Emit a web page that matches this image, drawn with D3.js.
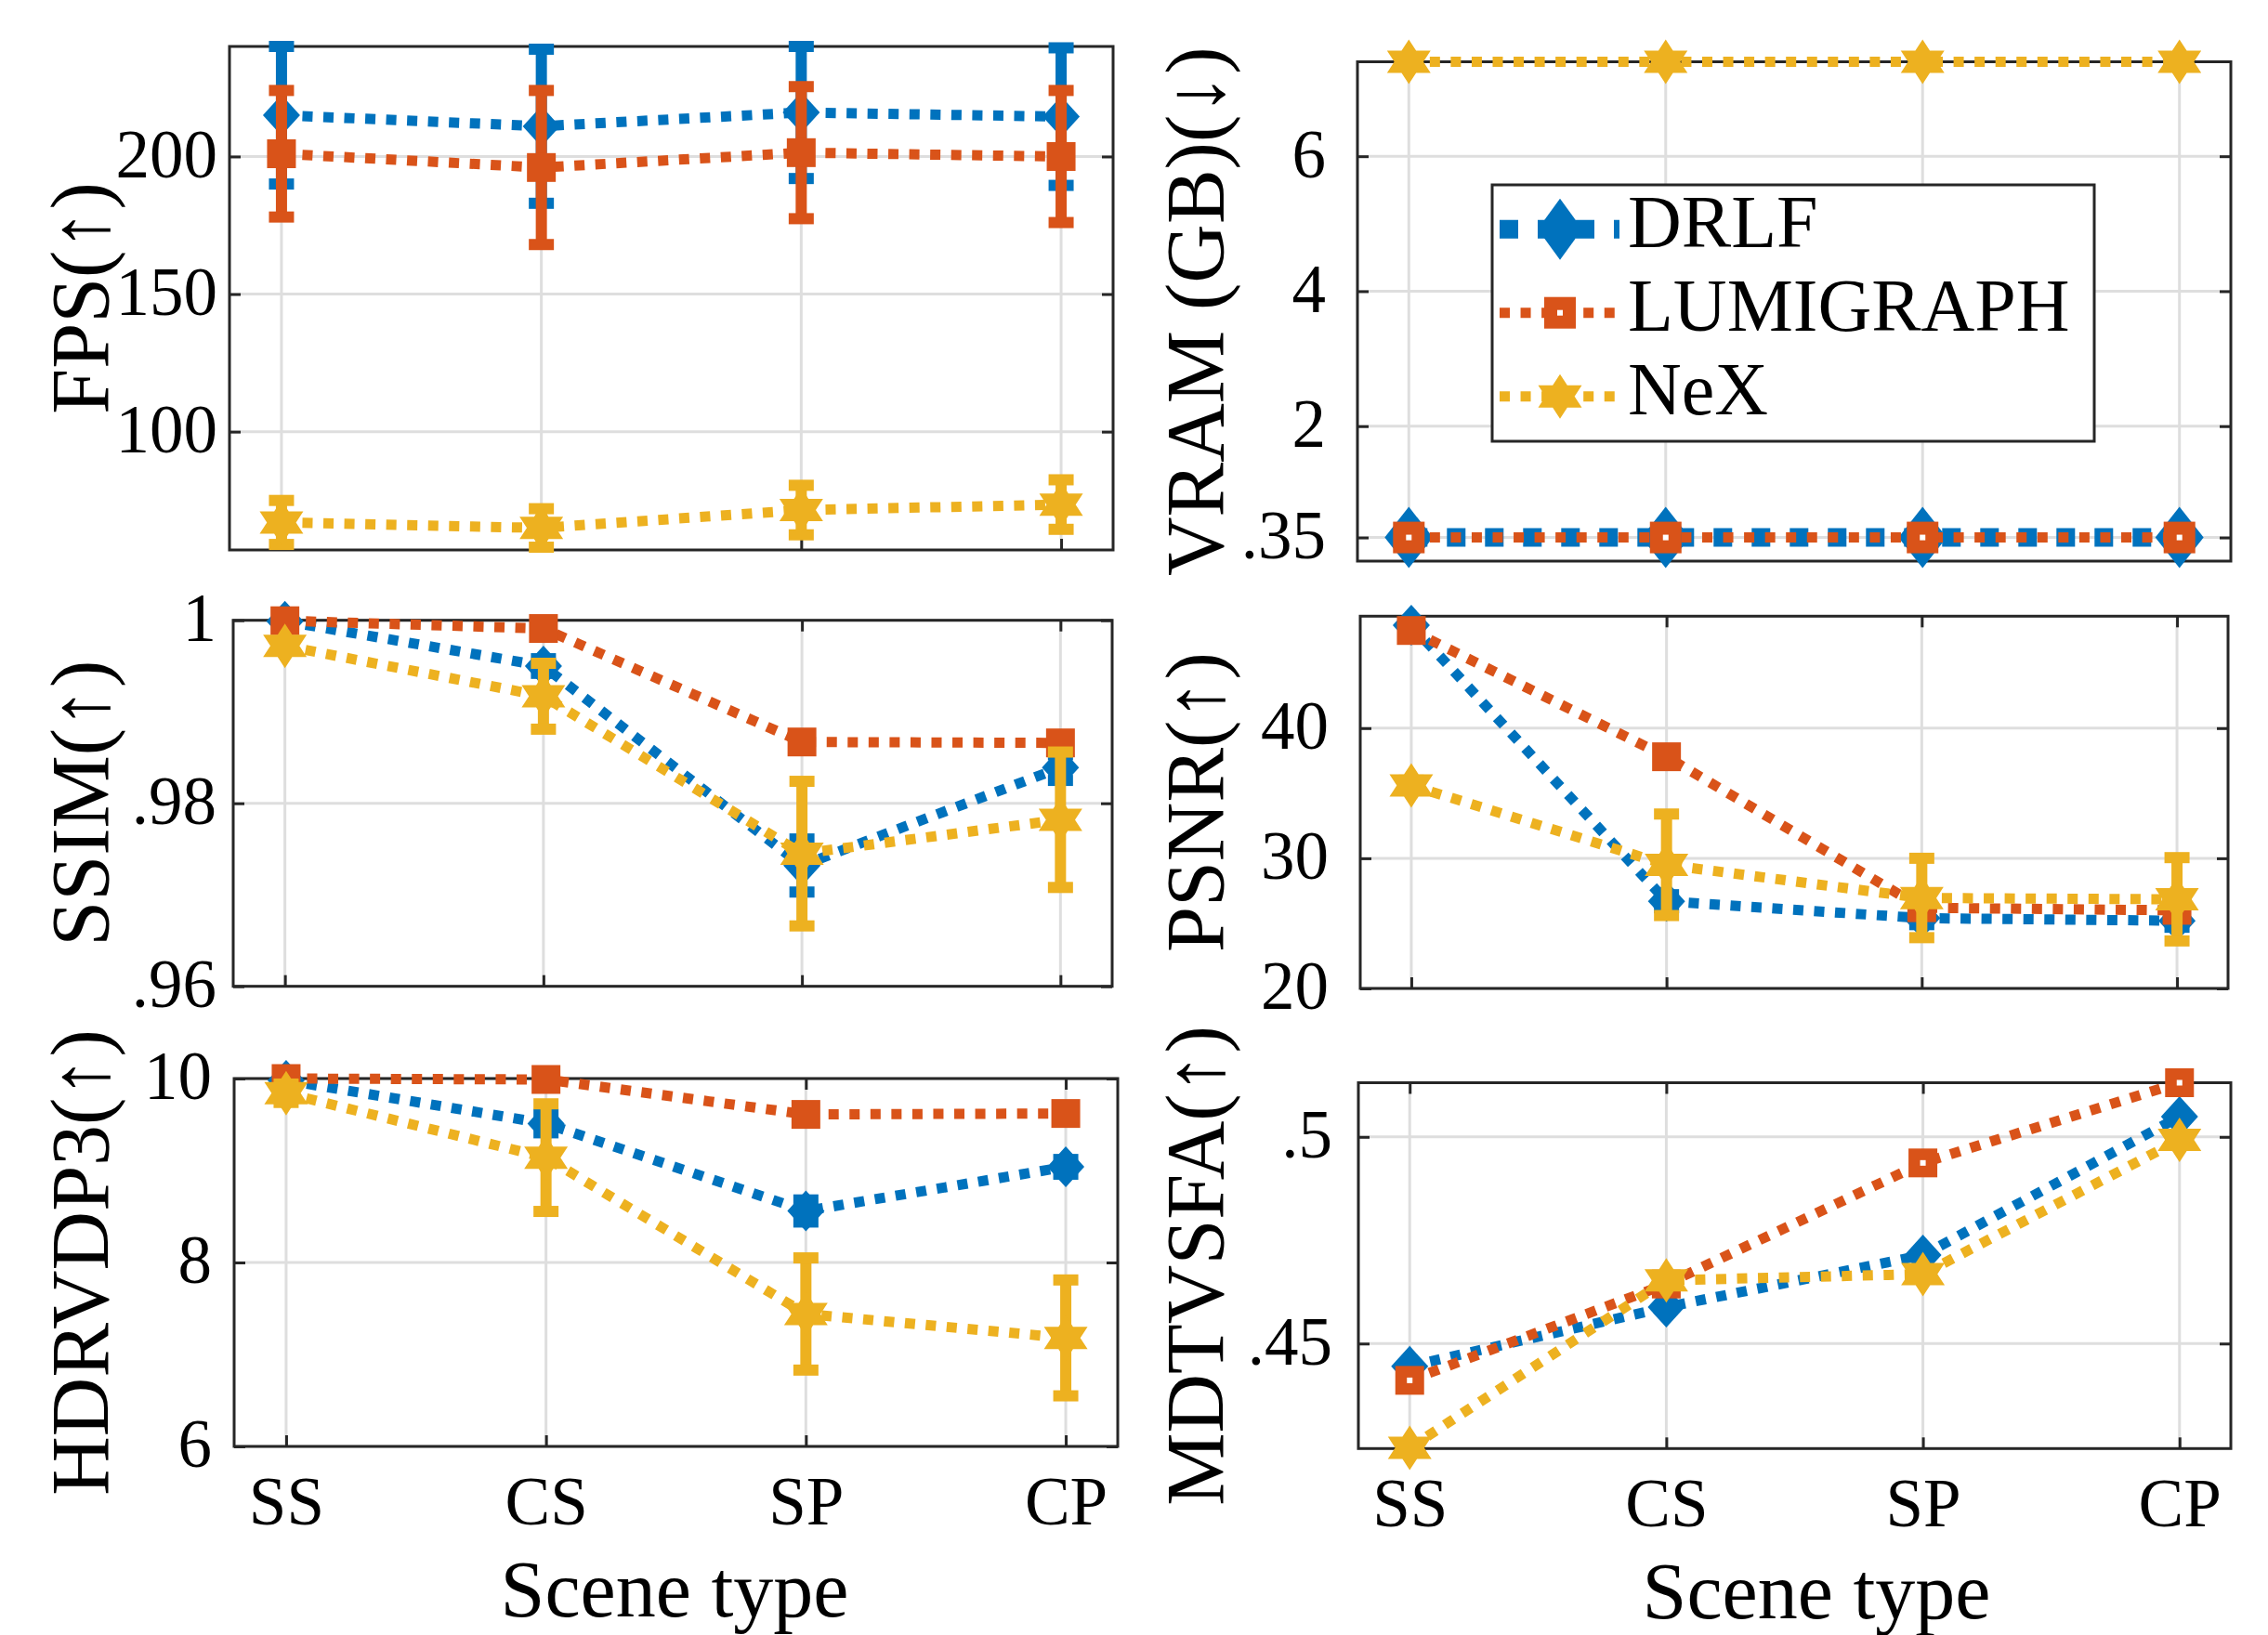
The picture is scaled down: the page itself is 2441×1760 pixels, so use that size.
<!DOCTYPE html>
<html>
<head>
<meta charset="utf-8">
<script src="https://cdn.jsdelivr.net/npm/d3@7"></script>
<style>
body { margin: 0; background: #fff; }
text { font-family: "Liberation Serif", "Times New Roman", serif; fill: #000; }
</style>
</head>
<body>
<svg id="chart" width="2441" height="1760"></svg>
<script>
// categories / methods
var categories = ["SS", "CS", "SP", "CP"];
var methods = ["DRLF", "LUMIGRAPH", "NeX"];
var colors = ["#0072BD", "#D95319", "#EDB120"];

// FPS
var fpsDRLF = [215, 211, 216, 214.5],   fpsDRLFErr = [25, 28, 24, 25];
var fpsLumi = [201, 196, 201.4, 200],   fpsLumiErr = [23, 28, 24, 24];
var fpsNeX  = [67, 65, 71.5, 73.5],     fpsNeXErr  = [8, 7, 9, 9];
var fpsRange = [57, 240], fpsTicks = [100, 150, 200], fpsTickLabels = ["100", "150", "200"];

// VRAM
var vramDRLF = [0.35, 0.35, 0.35, 0.35];
var vramLumi = [0.35, 0.35, 0.35, 0.35];
var vramNeX  = [7.4, 7.4, 7.4, 7.4];
var vramRange = [0, 7.4], vramTicks = [0.35, 2, 4, 6], vramTickLabels = [".35", "2", "4", "6"];

// SSIM
var ssimDRLF = [0.9999, 0.9950, 0.9732, 0.9839], ssimDRLFErr = [0.0003, 0.0008, 0.0029, 0.0014];
var ssimLumi = [0.99995, 0.9991, 0.9867, 0.9866];
var ssimNeX  = [0.9972, 0.9917, 0.9745, 0.9782], ssimNeXErr = [0.0004, 0.0036, 0.0079, 0.0074];
var ssimRange = [0.96, 1], ssimTicks = [0.96, 0.98, 1], ssimTickLabels = [".96", ".98", "1"];

// PSNR
var psnrDRLF = [47.9, 26.7, 25.4, 25.2], psnrDRLFErr = [0.3, 0.5, 0.5, 0.5];
var psnrLumi = [47.5, 37.8, 26.2, 26.0];
var psnrNeX  = [35.6, 29.5, 26.95, 26.85], psnrNeXErr = [0.4, 3.9, 3.05, 3.2];
var psnrRange = [20, 48.6], psnrTicks = [20, 30, 40], psnrTickLabels = ["20", "30", "40"];

// HDRVDP3
var hdrDRLF = [9.98, 9.51, 8.56, 9.04], hdrDRLFErr = [0.05, 0.1, 0.12, 0.08];
var hdrLumi = [10.0, 9.99, 9.61, 9.62];
var hdrNeX  = [9.84, 9.14, 7.44, 7.18], hdrNeXErr = [0.1, 0.585, 0.61, 0.63];
var hdrRange = [6, 10], hdrTicks = [6, 8, 10], hdrTickLabels = ["6", "8", "10"];

// MDTVSFA
var mdDRLF = [0.4445, 0.4588, 0.4714, 0.5049];
var mdLumi = [0.4411, 0.4644, 0.4937, 0.5131];
var mdNeX  = [0.4248, 0.4653, 0.4668, 0.4993];
var mdRange = [0.4246, 0.5131], mdTicks = [0.45, 0.5], mdTickLabels = [".45", ".5"];

var svg = d3.select("#chart");
var axisColor = "#262626", gridColor = "#dedede";

var panels = [
  {label: "FPS(\u2191)", range: fpsRange, ticks: fpsTicks, tickLabels: fpsTickLabels,
   series: [[fpsDRLF, fpsDRLFErr], [fpsLumi, fpsLumiErr], [fpsNeX, fpsNeXErr]],
   x0: 247, x1: 1198, y0: 50, y1: 592, gap: 13, lx: 116},
  {label: "VRAM (GB)(\u2193)", range: vramRange, ticks: vramTicks, tickLabels: vramTickLabels,
   series: [[vramDRLF], [vramLumi], [vramNeX]], big: true, hole: true, legend: true,
   x0: 1461, x1: 2401, y0: 66.5, y1: 604, gap: 34, lx: 1316},
  {label: "SSIM(\u2191)", range: ssimRange, ticks: ssimTicks, tickLabels: ssimTickLabels,
   series: [[ssimDRLF, ssimDRLFErr], [ssimLumi], [ssimNeX, ssimNeXErr]],
   x0: 251, x1: 1197, y0: 667.7, y1: 1061.7, gap: 18, lx: 116},
  {label: "PSNR(\u2191)", range: psnrRange, ticks: psnrTicks, tickLabels: psnrTickLabels,
   series: [[psnrDRLF, psnrDRLFErr], [psnrLumi], [psnrNeX, psnrNeXErr]],
   x0: 1464, x1: 2398, y0: 663.3, y1: 1064, gap: 34, lx: 1316},
  {label: "HDRVDP3(\u2191)", range: hdrRange, ticks: hdrTicks, tickLabels: hdrTickLabels,
   series: [[hdrDRLF, hdrDRLFErr], [hdrLumi], [hdrNeX, hdrNeXErr]], xlab: 726,
   x0: 252, x1: 1203, y0: 1161, y1: 1557, gap: 24, lx: 116},
  {label: "MDTVSFA(\u2191)", range: mdRange, ticks: mdTicks, tickLabels: mdTickLabels,
   series: [[mdDRLF], [mdLumi], [mdNeX]], hole: true, xlab: 1955,
   x0: 1462, x1: 2401, y0: 1165.5, y1: 1559.3, gap: 28, lx: 1316}
];

function hexagram(r, sx) {
  var pts = [];
  for (var i = 0; i < 12; i++) {
    var a = i * Math.PI / 6, rr = (i % 2 == 0) ? r : r / Math.sqrt(3);
    pts.push([sx * rr * Math.sin(a), -rr * Math.cos(a)]);
  }
  return "M" + pts.join("L") + "Z";
}

function marker(g, k, cx, cy, big, hole) {
  var c = colors[k];
  if (k == 0) {
    var w = big ? 52 : 40, h = big ? 66 : 44;
    g.append("path").attr("d", "M0," + (-h / 2) + "L" + (w / 2) + ",0L0," + (h / 2) + "L" + (-w / 2) + ",0Z")
      .attr("transform", "translate(" + cx + "," + cy + ")").attr("fill", c);
  } else if (k == 1) {
    var s = big ? 34 : 31;
    g.append("rect").attr("x", cx - s / 2).attr("y", cy - s / 2).attr("width", s).attr("height", s).attr("fill", c);
    if (hole) g.append("rect").attr("x", cx - 3).attr("y", cy - 3).attr("width", 6).attr("height", 6).attr("fill", "#fff");
  } else {
    g.append("path").attr("d", hexagram(24, 1.13))
      .attr("transform", "translate(" + cx + "," + cy + ")").attr("fill", c);
  }
}

panels.forEach(function(p) {
  var x = d3.scalePoint().domain(categories).range([p.x0, p.x1]).padding(0.2);
  var y = d3.scaleLinear().domain(p.range).range([p.y1, p.y0]);
  var g = svg.append("g");

  // grid
  g.selectAll(".gx").data(categories).enter().append("line")
    .attr("x1", function(d) { return x(d); }).attr("x2", function(d) { return x(d); })
    .attr("y1", p.y0).attr("y2", p.y1).attr("stroke", gridColor).attr("stroke-width", 3);
  g.selectAll(".gy").data(p.ticks).enter().append("line")
    .attr("x1", p.x0).attr("x2", p.x1)
    .attr("y1", function(d) { return y(d); }).attr("y2", function(d) { return y(d); })
    .attr("stroke", gridColor).attr("stroke-width", 3);

  // axes with inward ticks
  var fmt = function(d, i) { return p.tickLabels[i]; };
  var left = g.append("g").attr("transform", "translate(" + p.x0 + ",0)")
    .call(d3.axisLeft(y).tickValues(p.ticks).tickFormat(fmt).tickSize(-12).tickPadding(p.gap));
  var right = g.append("g").attr("transform", "translate(" + p.x1 + ",0)")
    .call(d3.axisRight(y).tickValues(p.ticks).tickFormat("").tickSize(-12));
  var bottom = g.append("g").attr("transform", "translate(0," + p.y1 + ")")
    .call(d3.axisBottom(x).tickSize(-12).tickFormat(p.xlab ? null : ""));
  var top = g.append("g").attr("transform", "translate(0," + p.y0 + ")")
    .call(d3.axisTop(x).tickSize(-12).tickFormat(""));
  [left, right, bottom, top].forEach(function(a) {
    a.select(".domain").remove();
    a.selectAll(".tick line").attr("stroke", axisColor).attr("stroke-width", 3);
    a.selectAll("text").attr("font-size", 73).attr("font-family", null).attr("fill", "#000");
  });
  left.selectAll("text").attr("dy", "0.3em");
  bottom.selectAll("text").attr("y", 84).attr("dy", 0);
  g.append("rect").attr("x", p.x0).attr("y", p.y0).attr("width", p.x1 - p.x0).attr("height", p.y1 - p.y0)
    .attr("fill", "none").attr("stroke", axisColor).attr("stroke-width", 3);

  // y label
  g.append("text").attr("transform", "translate(" + p.lx + "," + ((p.y0 + p.y1) / 2) + ") rotate(-90)")
    .attr("text-anchor", "middle").attr("font-size", 88).text(p.label);
  if (p.xlab) {
    g.append("text").attr("x", p.xlab).attr("y", p.y1 + 183).attr("text-anchor", "middle")
      .attr("font-size", 86).text("Scene type");
  }

  // series
  p.series.forEach(function(s, k) {
    var vals = s[0], err = s[1];
    var sg = g.append("g");
    var lw = (p.big && k == 0) ? 20 : 11;
    var line = d3.line().x(function(d, i) { return x(categories[i]); }).y(function(d) { return y(d); });
    sg.append("path").attr("d", line(vals)).attr("fill", "none").attr("stroke", colors[k])
      .attr("stroke-width", lw).attr("stroke-dasharray", lw + " " + (lw * 1.05));
    if (err) {
      vals.forEach(function(v, i) {
        var cx = x(categories[i]);
        sg.append("line").attr("x1", cx).attr("x2", cx).attr("y1", y(v - err[i])).attr("y2", y(v + err[i]))
          .attr("stroke", colors[k]).attr("stroke-width", 12);
        [v - err[i], v + err[i]].forEach(function(e) {
          sg.append("line").attr("x1", cx - 13.5).attr("x2", cx + 13.5).attr("y1", y(e)).attr("y2", y(e))
            .attr("stroke", colors[k]).attr("stroke-width", 12);
        });
      });
    }
    vals.forEach(function(v, i) { marker(sg, k, x(categories[i]), y(v), p.big, p.hole); });
  });

  // legend
  if (p.legend) {
    var lg = g.append("g");
    lg.append("rect").attr("x", 1606).attr("y", 199).attr("width", 648).attr("height", 276)
      .attr("fill", "#fff").attr("stroke", axisColor).attr("stroke-width", 3);
    methods.forEach(function(m, k) {
      var cy = 246.7 + k * 90;
      var lw = k == 0 ? 20 : 11;
      lg.append("line").attr("x1", 1614).attr("x2", 1743).attr("y1", cy).attr("y2", cy)
        .attr("stroke", colors[k]).attr("stroke-width", lw).attr("stroke-dasharray", lw + " " + (lw * 1.05));
      if (k == 0) {
        lg.append("path").attr("d", "M0,-33L24,0L0,33L-24,0Z").attr("transform", "translate(1679," + cy + ")").attr("fill", colors[0]);
      } else {
        marker(lg, k, 1679, cy, true, true);
      }
      lg.append("text").attr("x", 1752).attr("y", cy).attr("dy", "0.24em").attr("font-size", 80).text(m);
    });
  }
});
</script>
</body>
</html>
